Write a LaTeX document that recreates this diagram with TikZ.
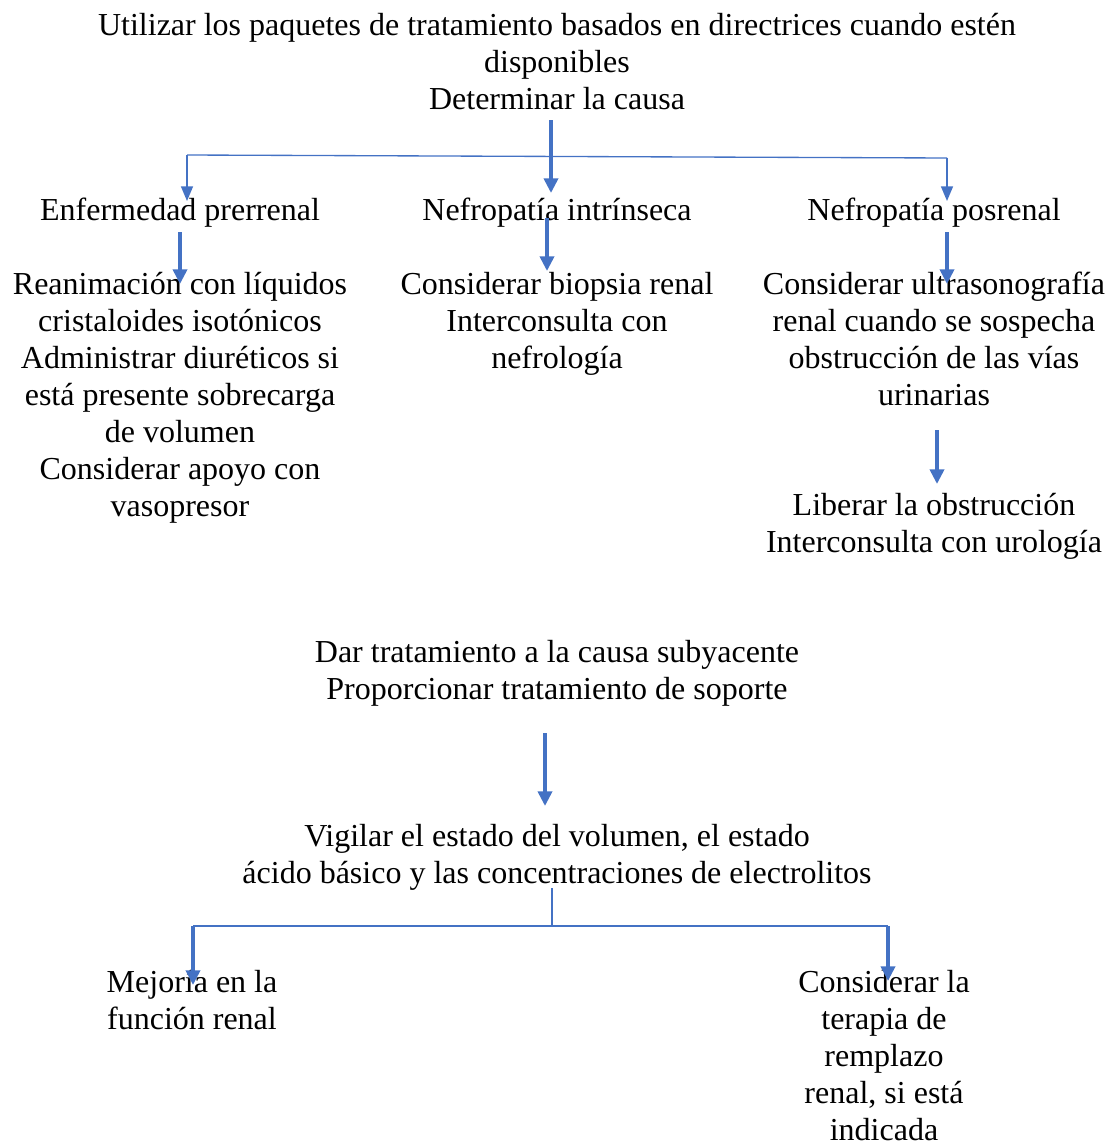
\documentclass[tikz,border=0pt]{standalone}
\usepackage{fontspec}
\setmainfont{Liberation Serif}
\usetikzlibrary{arrows.meta}
\definecolor{officeblue}{HTML}{4472C4}
\begin{document}
\begin{tikzpicture}[x=0.75pt,y=-0.75pt,
    txt/.style={align=center,inner sep=0pt,font=\fontsize{24}{27.75}\selectfont},
    bigarrow/.style={officeblue,line width=3pt,-{Triangle[width=10.5pt,length=11pt]}},
    thinarrow/.style={officeblue,line width=1.1pt,-{Triangle[width=9pt,length=11pt]}},
    link/.style={officeblue,line width=1pt}]
  \useasboundingbox (0,0) rectangle (1112,1142);
  % texts
  \node[txt] (top) at (557,62) {Utilizar los paquetes de tratamiento basados en directrices cuando estén\\disponibles\\Determinar la causa};
  \node[txt] (prerrenal) at (180,213) {Enfermedad prerrenal};
  \node[txt] (intrinseca) at (557,213) {Nefropatía intrínseca};
  \node[txt] (posrenal) at (934,213) {Nefropatía posrenal};
  \node[txt] (liquidos) at (180,397.5) {Reanimación con líquidos\\cristaloides isotónicos\\Administrar diuréticos si\\está presente sobrecarga\\de volumen\\Considerar apoyo con\\vasopresor};
  \node[txt] (biopsia) at (557,324) {Considerar biopsia renal\\Interconsulta con\\nefrología};
  \node[txt] (ultrasono) at (934,338.5) {Considerar ultrasonografía\\renal cuando se sospecha\\obstrucción de las vías\\urinarias};
  \node[txt] (liberar) at (934,526.5) {Liberar la obstrucción\\Interconsulta con urología};
  \node[txt] (causa) at (557,673.5) {Dar tratamiento a la causa subyacente\\Proporcionar tratamiento de soporte};
  \node[txt] (vigilar) at (557,857.5) {Vigilar el estado del volumen, el estado\\ácido básico y las concentraciones de electrolitos};
  \node[txt] (mejoria) at (192,1000.5) {Mejoría en la\\función renal};
  \node[txt] (remplazo) at (884,1056) {Considerar la\\terapia de\\remplazo\\renal, si está\\indicada};
  % connector points
  \coordinate (split) at (551,157);
  \coordinate (splitL) at (187,155);
  \coordinate (splitR) at (947,158);
  \coordinate (join) at (552,926);
  \coordinate (joinL) at (193,926);
  \coordinate (joinR) at (888,926);
  % arrows
  \draw[link] (splitL) -- (splitR);
  \draw[bigarrow] (551,120) -- (551,193);
  \draw[thinarrow] (splitL) -- (187,201);
  \draw[thinarrow] (splitR) -- (947,201);
  \draw[bigarrow] (180,232) -- (180,284);
  \draw[bigarrow] (547,218) -- (547,271);
  \draw[bigarrow] (947,232) -- (947,284);
  \draw[bigarrow] (937,430) -- (937,484);
  \draw[bigarrow] (545,733) -- (545,806);
  \draw[link] (552,888) -- (join);
  \draw[link] (joinL) -- (joinR);
  \draw[bigarrow] (joinL) -- (193,985);
  \draw[bigarrow] (joinR) -- (888,981);
\end{tikzpicture}
\end{document}
